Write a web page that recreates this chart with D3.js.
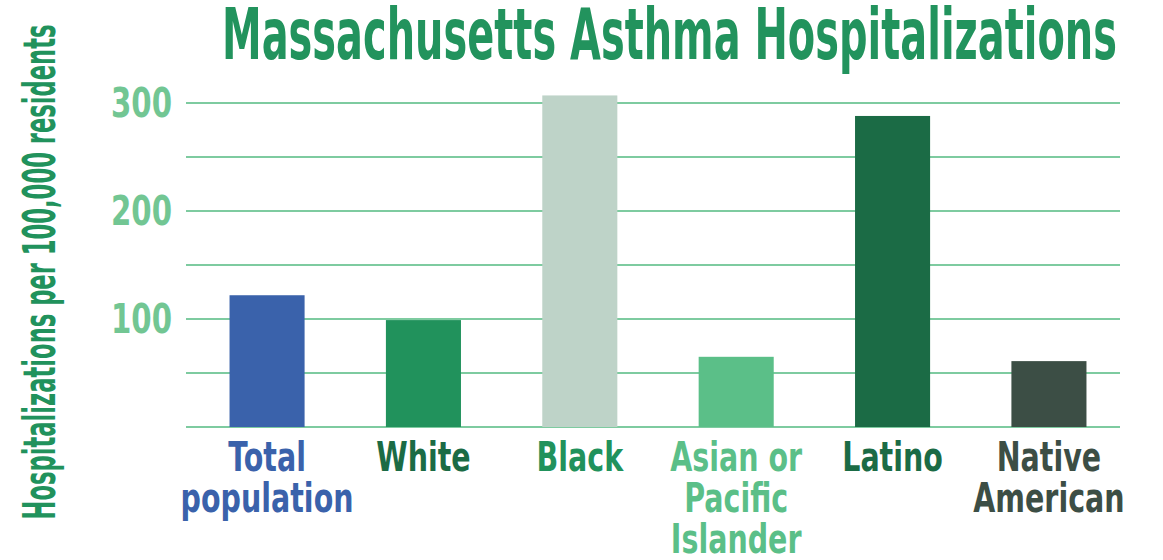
<!DOCTYPE html>
<meta charset="utf-8">
<style>
    body { margin: 0; background: #fff; }
    text { font-family: "DejaVu Sans", "Liberation Sans", sans-serif; font-weight: bold; }
    .grid line { stroke: #7ecba0; stroke-width: 2px; }
</style>
<svg width="1163" height="560"></svg>
<script src="https://cdn.jsdelivr.net/npm/d3@7"></script>
<script>

    var categories = ["Total\npopulation", "White", "Black", "Asian or\nPacific\nIslander", "Latino", "Native\nAmerican"];
    var values = [122, 99, 307, 65, 288, 61];
    var barColors = ["#3a62ab", "#21925c", "#bed3c8", "#5bbf88", "#1b6b45", "#3c4e45"];
    var labelColors = ["#3a62ab", "#1b6b45", "#21925c", "#5bbf88", "#1b6b45", "#3c4e45"];
    var tickValues = [100, 200, 300];

    var svg = d3.select("svg");

    var x = d3.scaleBand()
        .domain(categories)
        .range([192, 1124])
        .paddingInner(0.52)
        .paddingOuter(0.24);

    var y = d3.scaleLinear()
        .domain([0, 300])
        .range([427, 103]);

    // squeeze wide glyphs down to the condensed look of the original
    function squeeze(sel, k) {
        sel.each(function () {
            var len = this.getComputedTextLength();
            d3.select(this).attr("textLength", len * k).attr("lengthAdjust", "spacingAndGlyphs");
        });
    }

    svg.append("g")
        .attr("class", "grid")
        .selectAll("line")
        .data(y.ticks(6))
        .enter().append("line")
        .attr("x1", 186)
        .attr("x2", 1120)
        .attr("y1", function (d) { return y(d); })
        .attr("y2", function (d) { return y(d); });

    svg.append("g")
        .selectAll("rect")
        .data(values)
        .enter().append("rect")
        .attr("x", function (d, i) { return x(categories[i]); })
        .attr("width", x.bandwidth())
        .attr("y", function (d) { return y(d); })
        .attr("height", function (d) { return y(0) - y(d); })
        .attr("fill", function (d, i) { return barColors[i]; });

    var ticks = svg.append("g")
        .selectAll("text")
        .data(tickValues)
        .enter().append("text")
        .attr("x", 172)
        .attr("y", function (d) { return y(d); })
        .attr("dy", "0.36em")
        .attr("text-anchor", "end")
        .attr("fill", "#72c693")
        .style("font-size", "40px")
        .text(function (d) { return d; });
    squeeze(ticks, 0.73);

    var labelData = [];
    categories.forEach(function (c, i) {
        c.split("\n").forEach(function (line, j) {
            labelData.push({cat: c, line: line, row: j, color: labelColors[i]});
        });
    });

    var labels = svg.append("g")
        .selectAll("text")
        .data(labelData)
        .enter().append("text")
        .attr("x", function (d) { return x(d.cat) + x.bandwidth() / 2; })
        .attr("y", function (d) { return 471 + d.row * 41; })
        .attr("text-anchor", "middle")
        .attr("fill", function (d) { return d.color; })
        .style("font-size", "41px")
        .text(function (d) { return d.line; });
    squeeze(labels, 0.695);

    svg.append("text")
        .attr("x", 222)
        .attr("y", 59)
        .attr("fill", "#22935d")
        .style("font-size", "71px")
        .attr("textLength", 895)
        .attr("lengthAdjust", "spacingAndGlyphs")
        .text("Massachusetts Asthma Hospitalizations");

    svg.append("text")
        .attr("transform", "translate(55,272) rotate(-90)")
        .attr("text-anchor", "middle")
        .attr("fill", "#21925c")
        .style("font-size", "45px")
        .attr("textLength", 495)
        .attr("lengthAdjust", "spacingAndGlyphs")
        .text("Hospitalizations per 100,000 residents");

</script>
